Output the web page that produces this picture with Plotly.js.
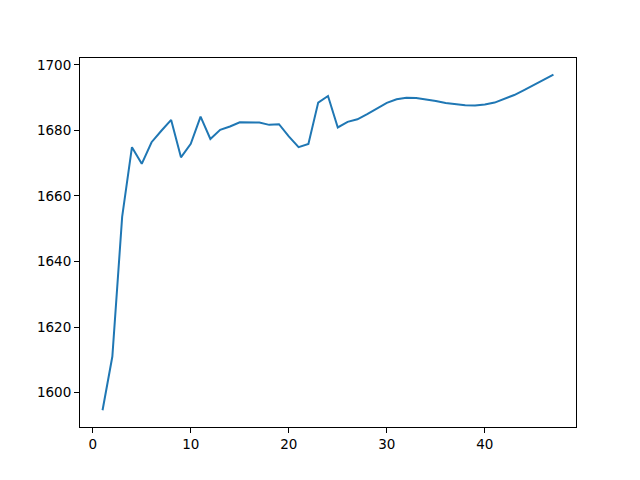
<!DOCTYPE html>
<html>
<head>
<meta charset="utf-8">
<script src="https://cdn.plot.ly/plotly-3.0.1.min.js"></script>
<style>html,body{margin:0;padding:0;background:#fff;}#chart{width:640px;height:480px;}</style>
</head>
<body>
<div id="chart"></div>
<script>
const xValues = [1,2,3,4,5,6,7,8,9,10,11,12,13,14,15,16,17,18,19,20,21,22,23,24,25,26,27,28,29,30,31,32,33,34,35,36,37,38,39,40,41,42,43,44,45,46,47];
const yValues = [1594.6,1611.0,1653.6,1674.9,1669.8,1676.4,1679.9,1683.2,1671.8,1675.9,1684.2,1677.4,1680.2,1681.2,1682.5,1682.4,1682.4,1681.7,1681.9,1678.2,1674.9,1675.9,1688.5,1690.5,1680.9,1682.6,1683.4,1685.0,1686.8,1688.4,1689.5,1690.0,1689.9,1689.5,1689.0,1688.4,1688.0,1687.7,1687.6,1687.9,1688.5,1689.6,1690.8,1692.3,1693.8,1695.3,1697.0];

const axisCommon = {
  showline: true, mirror: true, linecolor: '#000', linewidth: 1,
  ticks: 'outside', ticklen: 5, tickwidth: 1, tickcolor: '#000',
  showgrid: false, zeroline: false,
  tickfont: {family: 'DejaVu Sans', size: 13.5, color: '#000'}
};

Plotly.newPlot('chart', [{
  x: xValues, y: yValues, type: 'scatter', mode: 'lines',
  line: {color: '#1f77b4', width: 2}
}], {
  width: 640, height: 480,
  margin: {l: 80, r: 64, t: 58, b: 53},
  paper_bgcolor: '#fff', plot_bgcolor: '#fff',
  showlegend: false,
  xaxis: Object.assign({}, axisCommon, {range: [-1.3, 49.3], tickvals: [0,10,20,30,40]}),
  yaxis: Object.assign({}, axisCommon, {range: [1589.5, 1702.1], tickvals: [1600,1620,1640,1660,1680,1700]})
}, {staticPlot: true});
</script>
</body>
</html>
